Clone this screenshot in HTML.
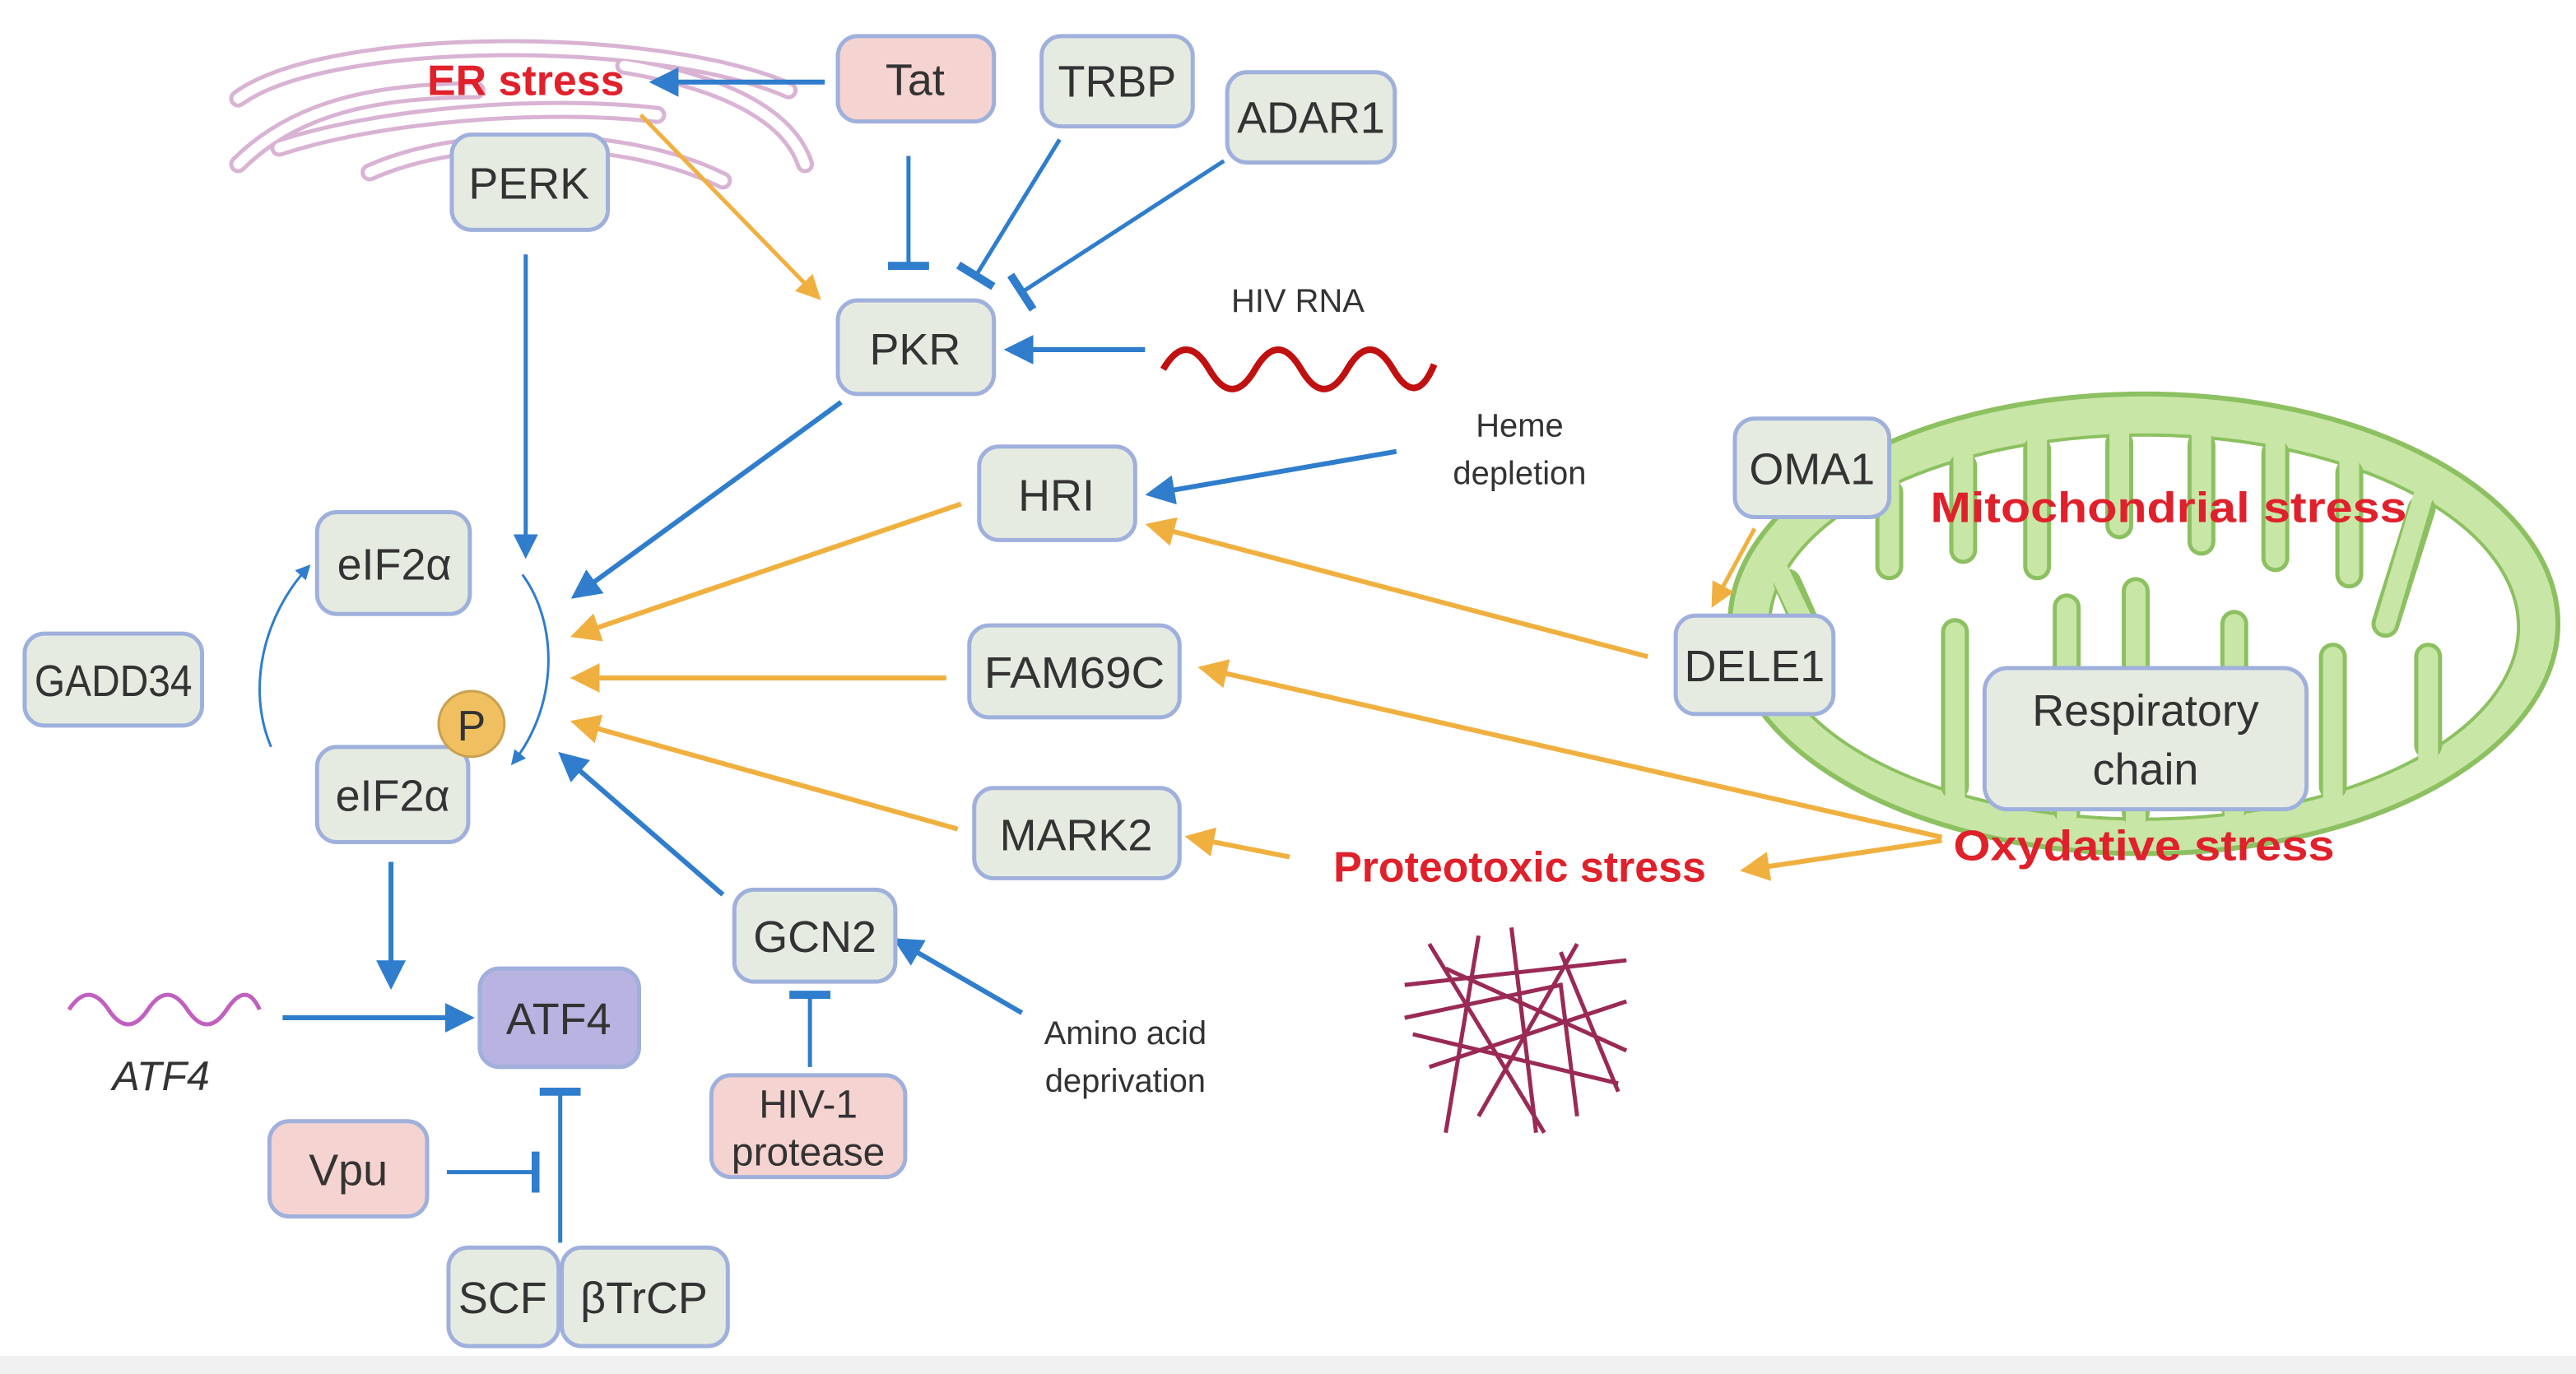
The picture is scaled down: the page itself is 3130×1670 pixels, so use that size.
<!DOCTYPE html>
<html><head><meta charset="utf-8"><style>
html,body{margin:0;padding:0;background:#fff}
svg{display:block}
text{font-family:"Liberation Sans",sans-serif}
</style></head><body>
<svg width="3130" height="1670" viewBox="0 0 1568 837" preserveAspectRatio="none" xmlns="http://www.w3.org/2000/svg">
<defs>
<marker id="ab" markerWidth="6" markerHeight="6" refX="5" refY="3" orient="auto" markerUnits="strokeWidth"><path d="M0,0 L6,3 L0,6 z" fill="#2f7dcc"/></marker>
<marker id="ao" markerWidth="6" markerHeight="6" refX="5" refY="3" orient="auto" markerUnits="strokeWidth"><path d="M0,0 L6,3 L0,6 z" fill="#f0b040"/></marker>
<marker id="tb" markerWidth="2" markerHeight="10" refX="1" refY="5" orient="auto" markerUnits="strokeWidth"><rect x="0" y="0" width="2" height="10" fill="#2f7dcc"/></marker>
</defs>
<rect x="0" y="826" width="1568" height="11" fill="#f0f0f0"/>
<!-- ER -->
<g fill="none" stroke-linecap="round">
<g stroke="#d9b3d3" stroke-width="11">
<path d="M145,60 C200,20 400,20 480,55"/>
<path d="M145,100 C180,65 230,55 290,55"/>
<path d="M170,90 C230,70 330,62 400,70"/>
<path d="M225,105 C280,80 380,80 440,110"/>
<path d="M380,40 C440,50 480,70 490,100"/>
</g>
<g stroke="#fff" stroke-width="6">
<path d="M145,60 C200,20 400,20 480,55"/>
<path d="M145,100 C180,65 230,55 290,55"/>
<path d="M170,90 C230,70 330,62 400,70"/>
<path d="M225,105 C280,80 380,80 440,110"/>
<path d="M380,40 C440,50 480,70 490,100"/>
</g>
</g>
<!-- Mitochondrion -->
<ellipse cx="1305" cy="380" rx="252" ry="140" fill="#c8e6a6" stroke="#8cc060" stroke-width="3"/>
<ellipse cx="1305" cy="382" rx="228" ry="117" fill="#fff" stroke="#8cc060" stroke-width="2"/>
<g stroke-linecap="round" fill="none">
<g stroke="#8cc060" stroke-width="17">
<path d="M1150,300 L1150,345"/><path d="M1195,284 L1195,335"/><path d="M1240,274 L1240,345"/><path d="M1290,270 L1290,320"/>
<path d="M1340,271 L1340,330"/><path d="M1385,276 L1385,340"/><path d="M1430,288 L1430,350"/><path d="M1474,310 L1452,380"/>
<path d="M1190,479 L1190,385"/><path d="M1258,493 L1258,370"/><path d="M1300,495 L1300,360"/><path d="M1360,491 L1360,380"/><path d="M1420,479 L1420,400"/><path d="M1478,454 L1478,400"/><path d="M1088,355 L1108,400"/>
</g>
<g stroke="#c8e6a6" stroke-width="12">
<path d="M1150,282 L1150,345"/><path d="M1195,267 L1195,335"/><path d="M1240,257 L1240,345"/><path d="M1290,253 L1290,320"/>
<path d="M1340,254 L1340,330"/><path d="M1385,259 L1385,340"/><path d="M1430,271 L1430,350"/><path d="M1478,292 L1452,380"/>
<path d="M1190,494 L1190,385"/><path d="M1258,507 L1258,370"/><path d="M1300,509 L1300,360"/><path d="M1360,506 L1360,380"/><path d="M1420,494 L1420,400"/><path d="M1478,470 L1478,400"/><path d="M1080,342 L1108,400"/>
</g>
</g>
<!-- waves -->
<path d="M708,225 q14,-24 28,0 t28,0 t28,0 t28,0 t28,0 t25,-3" fill="none" stroke="#c01010" stroke-width="4"/>
<path d="M42,615 q12,-18 24,0 t24,0 t24,0 t24,0 t20,0" fill="none" stroke="#c060c0" stroke-width="2.5"/>
<!-- aggregate -->
<g stroke="#9a2a55" stroke-width="2.5" fill="none">
<path d="M855,600 L990,585"/><path d="M860,630 L985,660"/><path d="M870,575 L940,690"/><path d="M900,570 L880,690"/><path d="M960,575 L900,680"/><path d="M990,610 L870,650"/><path d="M950,580 L985,665"/><path d="M855,620 L950,600 L960,680"/><path d="M880,590 L990,640"/><path d="M920,565 L935,690"/>
</g>
<!-- connectors blue -->
<g stroke="#2f7dcc" stroke-width="3" fill="none">
<line x1="502" y1="50" x2="398" y2="50" marker-end="url(#ab)"/>
<line x1="697" y1="213" x2="614" y2="213" marker-end="url(#ab)"/>
<line x1="320" y1="155" x2="320" y2="338" stroke-width="2.5" marker-end="url(#ab)"/>
<line x1="512" y1="245" x2="350" y2="363" marker-end="url(#ab)"/>
<line x1="440" y1="545" x2="342" y2="460" marker-end="url(#ab)"/>
<line x1="850" y1="275" x2="700" y2="301" marker-end="url(#ab)"/>
<line x1="622" y1="617" x2="546" y2="573" marker-end="url(#ab)"/>
<line x1="238" y1="525" x2="238" y2="600" marker-end="url(#ab)"/>
<line x1="172" y1="620" x2="286" y2="620" marker-end="url(#ab)"/>
<line x1="553" y1="95" x2="553" y2="162" stroke-width="2.5" marker-end="url(#tb)"/>
<line x1="645" y1="85" x2="594" y2="168" stroke-width="2.5" marker-end="url(#tb)"/>
<line x1="745" y1="98" x2="622" y2="178" stroke-width="2.5" marker-end="url(#tb)"/>
<line x1="493" y1="650" x2="493" y2="606" stroke-width="2.5" marker-end="url(#tb)"/>
<line x1="341" y1="757" x2="341" y2="665" stroke-width="2.5" marker-end="url(#tb)"/>
<line x1="272" y1="714" x2="326" y2="714" stroke-width="2.5" marker-end="url(#tb)"/>
<path d="M318,350 C340,380 340,430 312,465" stroke-width="1.5" marker-end="url(#ab)"/>
<path d="M165,455 C150,420 160,375 188,345" stroke-width="1.5" marker-end="url(#ab)"/>
</g>
<!-- connectors orange -->
<g stroke="#f0b040" stroke-width="3" fill="none">
<line x1="390" y1="70" x2="498" y2="181" stroke-width="2.5" marker-end="url(#ao)"/>
<line x1="585" y1="307" x2="350" y2="387" marker-end="url(#ao)"/>
<line x1="576" y1="413" x2="350" y2="413" marker-end="url(#ao)"/>
<line x1="583" y1="505" x2="350" y2="440" marker-end="url(#ao)"/>
<line x1="1003" y1="400" x2="700" y2="320" marker-end="url(#ao)"/>
<line x1="1182" y1="510" x2="732" y2="407" marker-end="url(#ao)"/>
<line x1="1182" y1="512" x2="1062" y2="530" marker-end="url(#ao)"/>
<line x1="785" y1="522" x2="724" y2="510" marker-end="url(#ao)"/>
<line x1="1068" y1="322" x2="1043" y2="368" stroke-width="2.5" marker-end="url(#ao)"/>
</g>
<!-- nodes -->
<g stroke="#9fb0dc" stroke-width="2.5">
<rect x="510" y="22" width="95" height="52" rx="12" fill="#f5d3d0"/>
<rect x="634" y="22" width="92" height="55" rx="12" fill="#e5ebe0"/>
<rect x="747" y="44" width="102" height="55" rx="12" fill="#e5ebe0"/>
<rect x="275" y="82" width="95" height="58" rx="12" fill="#e5ebe0"/>
<rect x="510" y="183" width="95" height="57" rx="12" fill="#e5ebe0"/>
<rect x="596" y="272" width="95" height="57" rx="12" fill="#e5ebe0"/>
<rect x="590" y="381" width="128" height="56" rx="12" fill="#e5ebe0"/>
<rect x="593" y="480" width="125" height="55" rx="12" fill="#e5ebe0"/>
<rect x="447" y="542" width="98" height="56" rx="12" fill="#e5ebe0"/>
<rect x="433" y="655" width="118" height="62" rx="12" fill="#f5d3d0"/>
<rect x="193" y="312" width="93" height="62" rx="12" fill="#e5ebe0"/>
<rect x="15" y="386" width="108" height="56" rx="12" fill="#e5ebe0"/>
<rect x="193" y="455" width="92" height="58" rx="12" fill="#e5ebe0"/>
<rect x="292" y="590" width="97" height="60" rx="12" fill="#b8b3e0"/>
<rect x="164" y="683" width="96" height="58" rx="12" fill="#f5d3d0"/>
<rect x="273" y="760" width="67" height="60" rx="12" fill="#e5ebe0"/>
<rect x="342" y="760" width="101" height="60" rx="12" fill="#e5ebe0"/>
<rect x="1056" y="255" width="94" height="60" rx="12" fill="#e5ebe0"/>
<rect x="1020" y="375" width="96" height="60" rx="12" fill="#e5ebe0"/>
<rect x="1208" y="407" width="196" height="86" rx="14" fill="#e5ebe0"/>
</g>
<circle cx="287" cy="441" r="20" fill="#f0c060" stroke="#c9a050" stroke-width="1.5"/>
<!-- labels -->
<g fill="#333" font-size="27" text-anchor="middle">
<text x="557" y="58">Tat</text>
<text x="680" y="59">TRBP</text>
<text x="798" y="81">ADAR1</text>
<text x="322" y="121">PERK</text>
<text x="557" y="222">PKR</text>
<text x="643" y="311">HRI</text>
<text x="654" y="419" textLength="110" lengthAdjust="spacingAndGlyphs">FAM69C</text>
<text x="655" y="518">MARK2</text>
<text x="496" y="580">GCN2</text>
<text x="492" y="681" font-size="24">HIV-1</text>
<text x="492" y="710" font-size="24">protease</text>
<text x="240" y="353">eIF2α</text>
<text x="69" y="424" textLength="96" lengthAdjust="spacingAndGlyphs">GADD34</text>
<text x="239" y="494">eIF2α</text>
<text x="287" y="451" font-size="26">P</text>
<text x="340" y="630">ATF4</text>
<text x="212" y="722">Vpu</text>
<text x="306" y="800">SCF</text>
<text x="392" y="800">βTrCP</text>
<text x="1103" y="295">OMA1</text>
<text x="1068" y="415">DELE1</text>
<text x="1306" y="442">Respiratory</text>
<text x="1306" y="478">chain</text>
<text x="98" y="664" font-style="italic" font-size="25">ATF4</text>
<text x="790" y="190" font-size="20">HIV RNA</text>
<text x="925" y="266" font-size="20">Heme</text>
<text x="925" y="295" font-size="20">depletion</text>
<text x="685" y="636" font-size="20">Amino acid</text>
<text x="685" y="665" font-size="20">deprivation</text>
</g>
<g fill="#e0202a" font-size="26" font-weight="bold" text-anchor="middle">
<text x="320" y="58">ER stress</text>
<text x="1320" y="318" textLength="290" lengthAdjust="spacingAndGlyphs">Mitochondrial stress</text>
<text x="1305" y="524" textLength="232" lengthAdjust="spacingAndGlyphs">Oxydative stress</text>
<text x="925" y="537">Proteotoxic stress</text>
</g>
</svg>
</body></html>
